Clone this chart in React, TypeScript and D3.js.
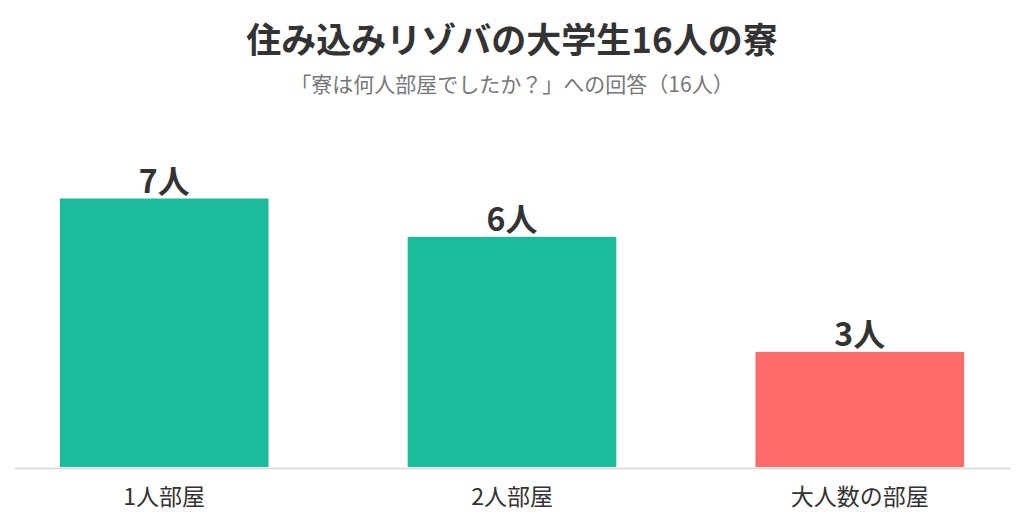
import React, { useEffect, useRef } from 'react';
import * as d3 from 'd3';

// Chart data
const categories = ['1人部屋', '2人部屋', '大人数の部屋'];
const counts = [7, 6, 3];
const barColors = ['#1abc9c', '#1abc9c', '#ff6b6b'];
const valueSuffix = '人';

const titleText = '住み込みリゾバの大学生16人の寮';
const subtitleText = '「寮は何人部屋でしたか？」への回答（16人）';

export default function App() {
  const svgRef = useRef<SVGSVGElement>(null);

  useEffect(() => {
    if (!svgRef.current) return;
    renderChart();
  }, []);

  const renderChart = () => {
    if (!svgRef.current) return;

    d3.select(svgRef.current).selectAll('*').remove();

    const svg = d3.select(svgRef.current);
    const width = 1024;
    const font = '"Noto Sans CJK JP", "Noto Sans", sans-serif';

    // background
    svg.append('rect')
      .attr('width', width)
      .attr('height', 520)
      .attr('fill', '#ffffff');

    // Scales
    const xScale = d3.scaleBand()
      .domain(categories)
      .range([14, 1010])
      .paddingInner(0.4)
      .paddingOuter(0.132);

    const yScale = d3.scaleLinear()
      .domain([0, 7])
      .range([467, 198.5]);

    const data = categories.map((c, i) => ({ category: c, count: counts[i], color: barColors[i] }));

    // Bars
    svg.selectAll('.bar')
      .data(data)
      .enter()
      .append('rect')
      .attr('class', 'bar')
      .attr('x', d => xScale(d.category) || 0)
      .attr('width', xScale.bandwidth())
      .attr('y', d => yScale(d.count))
      .attr('height', d => yScale(0) - yScale(d.count))
      .attr('fill', d => d.color);

    // Value labels
    svg.selectAll('.value')
      .data(data)
      .enter()
      .append('text')
      .attr('class', 'value')
      .attr('x', d => (xScale(d.category) || 0) + xScale.bandwidth() / 2)
      .attr('y', d => yScale(d.count) - 6)
      .attr('text-anchor', 'middle')
      .attr('fill', '#333333')
      .style('font-family', font)
      .style('font-size', '32px')
      .style('font-weight', 'bold')
      .text(d => `${d.count}${valueSuffix}`);

    // Baseline axis
    const xAxis = svg.append('g')
      .attr('transform', `translate(0,${yScale(0) + 1})`)
      .call(d3.axisBottom(xScale).tickSize(0).tickPadding(21));

    xAxis.select('.domain')
      .attr('stroke', '#dddddd')
      .attr('stroke-width', 2);

    xAxis.selectAll('text')
      .attr('fill', '#333333')
      .style('font-family', font)
      .style('font-size', '23px');

    // Title
    svg.append('text')
      .attr('x', width / 2)
      .attr('y', 53)
      .attr('text-anchor', 'middle')
      .attr('fill', '#333333')
      .style('font-family', font)
      .style('font-size', '35px')
      .style('font-weight', 'bold')
      .text(titleText);

    // Subtitle
    svg.append('text')
      .attr('x', width / 2)
      .attr('y', 92)
      .attr('text-anchor', 'middle')
      .attr('fill', '#777777')
      .style('font-family', font)
      .style('font-size', '21px')
      .text(subtitleText);
  };

  return (
    <svg
      ref={svgRef}
      width={1024}
      height={520}
      style={{ position: 'absolute', left: 0, top: 0, display: 'block' }}
    ></svg>
  );
}
